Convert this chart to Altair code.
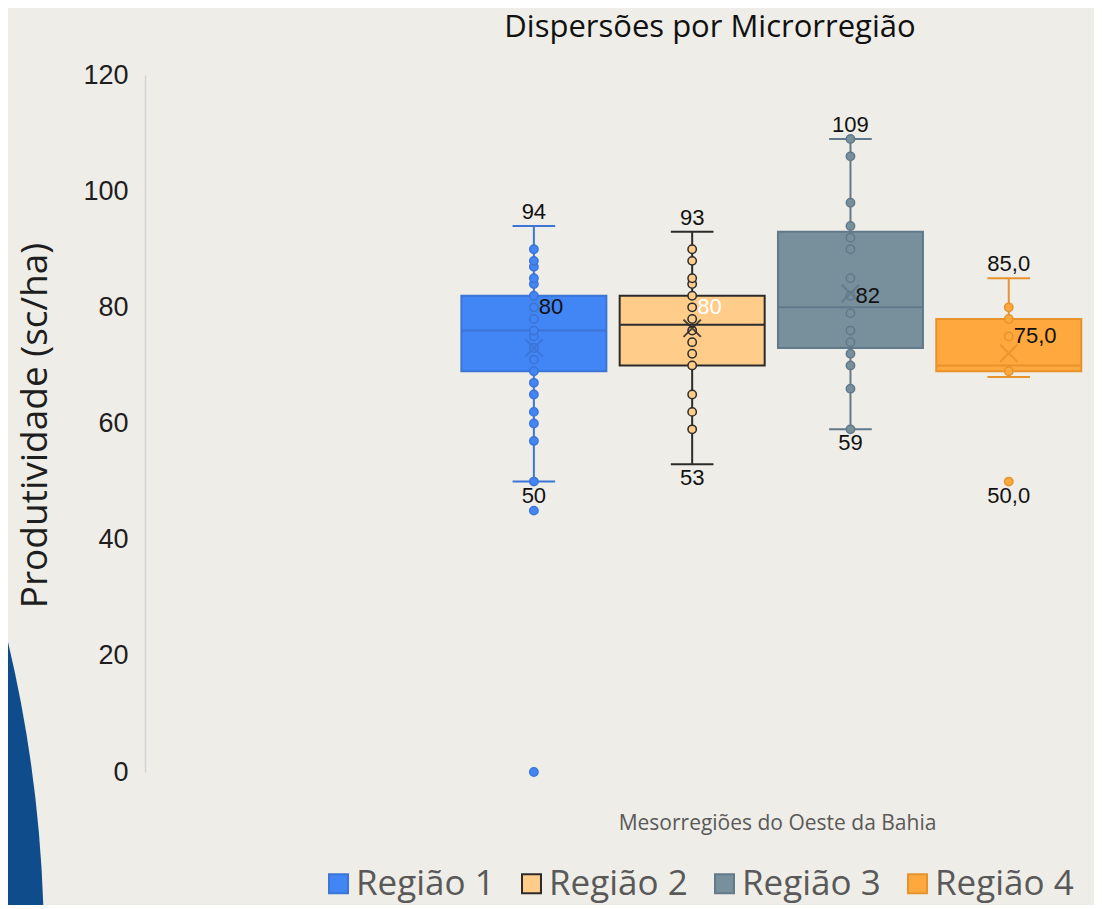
import math
import altair as alt
import pandas as pd

# ---------------- data ----------------
regions = ["Região 1", "Região 2", "Região 3", "Região 4"]
positions = [1, 2, 3, 4]
q1 = [69, 70, 73, 69]
median = [76, 77, 80, 70]
q3 = [82, 82, 93, 78]
whisker_low = [50, 53, 59, 68]
whisker_high = [94, 93, 109, 85]
means = [73, 76.4, 82.4, 72.1]

points_r1 = [0, 45, 50, 57, 60, 62, 65, 67, 69, 71, 73, 75, 76, 78, 80, 82, 84, 85, 87, 88, 90]
points_r2 = [59, 62, 65, 70, 72, 74, 76, 78, 80, 82, 84, 85, 88, 90]
points_r3 = [59, 66, 70, 72, 74, 76, 79, 82, 85, 90, 92, 94, 98, 106, 109]
points_r4 = [50, 69, 75, 78, 80]

top_labels = ["94", "93", "109", "85,0"]
bottom_label_values = [50, 53, 59, 50]
bottom_labels = ["50", "53", "59", "50,0"]
mid_label_values = [80, 80, 82, 75]
mid_labels = ["80", "80", "82", "75,0"]

fill_colors = ["#4285f4", "#ffcc8a", "#78909c", "#ffa83e"]
stroke_colors = ["#3b75d6", "#2b2b2b", "#62798a", "#e8922c"]

# ---------------- tables ----------------
box_df = pd.DataFrame({
    "region": regions, "pos": positions, "q1": q1, "median": median, "q3": q3,
    "lo": whisker_low, "hi": whisker_high, "mean": means,
    "top_text": top_labels, "bot_val": bottom_label_values, "bot_text": bottom_labels,
    "mid_val": mid_label_values, "mid_text": mid_labels,
})
caps_df = pd.DataFrame({
    "region": regions * 2, "pos": positions * 2, "value": whisker_low + whisker_high,
})
pts_rows = []
for reg, pos, pts in zip(regions, positions, [points_r1, points_r2, points_r3, points_r4]):
    for v in pts:
        pts_rows.append({"region": reg, "pos": pos, "value": v})
pts_df = pd.DataFrame(pts_rows)

fill_scale = alt.Scale(domain=regions, range=fill_colors)
stroke_scale = alt.Scale(domain=regions, range=stroke_colors)
x_scale = alt.Scale(domain=[-1.425, 4.45], nice=False, zero=False)
y_scale = alt.Scale(domain=[0, 120], nice=False)

X = alt.X("pos:Q", scale=x_scale,
          axis=alt.Axis(title="Mesorregiões do Oeste da Bahia", labels=False, ticks=False,
                        domain=False, grid=False, titleFont="Open Sans", titleFontSize=21,
                        titleFontWeight="normal", titleColor="#595959", titleX=632, titleY=51,
                        titleBaseline="middle", titleAlign="center"))
Y_axis = alt.Axis(title="Produtividade (sc/ha)", values=[0, 20, 40, 60, 80, 100, 120],
                  grid=False, ticks=False, domainColor="#d4d4d4", domainWidth=1.5,
                  labelFont="Liberation Sans", labelFontSize=27, labelColor="#1e1e1e",
                  labelPadding=17, titleFont="Open Sans", titleFontSize=37,
                  titleFontWeight="normal", titleColor="#1e1e1e", titleAngle=-90,
                  titleX=-110, titleY=350, titleBaseline="middle", titleAlign="center")

# decorative blue arc (slide background)
deco = alt.Chart(pd.DataFrame({"a": [0]})).mark_arc(color="#0f4c8c").encode(
    x=alt.value(-1436.6), y=alt.value(875), radius=alt.value(1335.6),
    theta=alt.value(1.308), theta2=alt.value(1.6))

region_fill = alt.Fill("region:N", scale=fill_scale, title=None)
region_stroke = alt.Stroke("region:N", scale=stroke_scale, title=None)

whiskers = alt.Chart(box_df).mark_rule(strokeWidth=2).encode(
    x=X, y=alt.Y("lo:Q", scale=y_scale, axis=Y_axis), y2="hi:Q",
    stroke=region_stroke)

caps = alt.Chart(caps_df).mark_rule(strokeWidth=2).encode(
    x=alt.X("x1:Q"), x2="x2:Q", y="value:Q", stroke=region_stroke
).transform_calculate(x1="datum.pos - 0.1346", x2="datum.pos + 0.1346")

boxes = alt.Chart(box_df).mark_bar(size=145, strokeWidth=2).encode(
    x="pos:Q", y="q1:Q", y2="q3:Q", fill=region_fill, stroke=region_stroke)

medians = alt.Chart(box_df).mark_rule(strokeWidth=2).encode(
    x=alt.X("x1:Q"), x2="x2:Q", y="median:Q", stroke=region_stroke
).transform_calculate(x1="datum.pos - 0.454", x2="datum.pos + 0.454")

points = alt.Chart(pts_df).mark_circle(size=70, strokeWidth=1.5, opacity=1).encode(
    x="pos:Q", y="value:Q", fill=region_fill, stroke=region_stroke)

mean_marks = alt.Chart(box_df).mark_point(
    shape="M-1,-1L1,1M-1,1L1,-1", size=300, strokeWidth=2, filled=False, opacity=0.85).encode(
    x="pos:Q", y="mean:Q", stroke=region_stroke)

top_text = alt.Chart(box_df).mark_text(
    font="Liberation Sans", fontSize=22, color="#111111", baseline="alphabetic", dy=-7).encode(
    x="pos:Q", y="hi:Q", text="top_text:N")

bot_text = alt.Chart(box_df).mark_text(
    font="Liberation Sans", fontSize=22, color="#111111", baseline="top", dy=4).encode(
    x="pos:Q", y="bot_val:Q", text="bot_text:N")

mid_text = alt.Chart(box_df).mark_text(
    font="Liberation Sans", fontSize=22, align="left", baseline="middle", dx=5).encode(
    x="pos:Q", y="mid_val:Q", text="mid_text:N",
    color=alt.condition(alt.datum.region == "Região 2", alt.value("white"), alt.value("#111111")))

chart = alt.layer(
    deco, whiskers, caps, boxes, medians, points, mean_marks, top_text, bot_text, mid_text
).properties(
    width=940, height=697,
    padding={"left": 137, "top": 67, "right": 9, "bottom": 133},
    autosize=alt.AutoSizeParams(type="none"),
    background="#efede7",
    title=alt.TitleParams("Dispersões por Microrregião", font="Open Sans", fontSize=31,
                          fontWeight="normal", color="#111111", anchor="middle", dx=95,
                          offset=17),
).configure_view(strokeWidth=0).configure_legend(
    orient="none", legendX=176, legendY=791, direction="horizontal",
    symbolType="square", symbolSize=360, symbolStrokeWidth=2,
    labelFont="Open Sans", labelFontSize=35, labelColor="#595959",
    labelOffset=0, columnPadding=19, padding=0, labelLimit=400,
)

chart.save("out.html", embed_options={"renderer": "svg", "actions": False})
